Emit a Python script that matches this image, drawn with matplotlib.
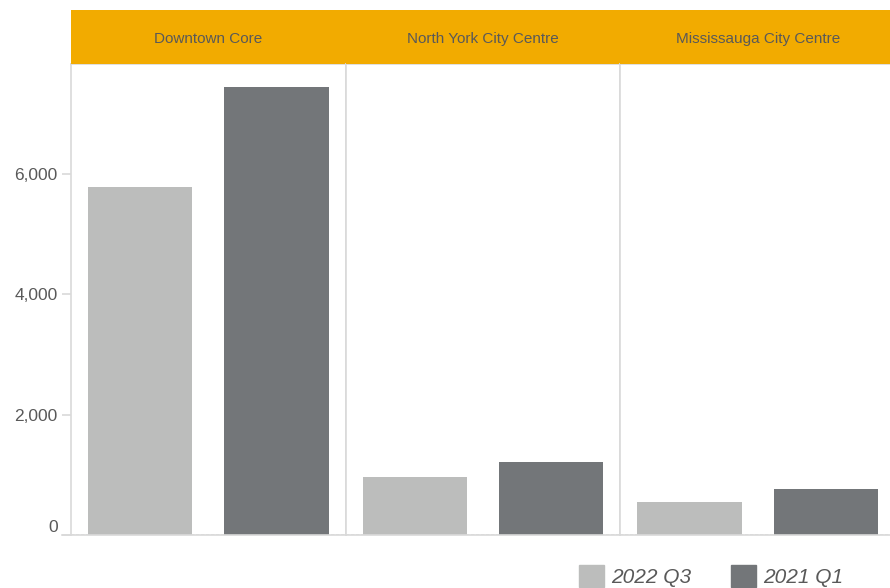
import matplotlib.pyplot as plt
from matplotlib.ticker import FuncFormatter

plt.rcParams['font.family'] = ['Liberation Sans', 'DejaVu Sans']

centres = ['Downtown Core', 'North York City Centre', 'Mississauga City Centre']
series = ['2022 Q3', '2021 Q1']
q3_2022 = [5780, 960, 550]
q1_2021 = [7450, 1210, 765]
colors = ['#BCBDBC', '#737679']

header_color = '#F2AB00'
text_color = '#595959'
line_color = '#D9D9D9'

fig = plt.figure(figsize=(8.9, 5.88), dpi=100)

left = 71 / 890
pw = 274.7 / 890
bottom, top = 1 - 535 / 588, 1 - 64 / 588
head_top = 1 - 10 / 588

axes = []
for i, name in enumerate(centres):
    ax = fig.add_axes([left + i * pw, bottom, pw, top - bottom],
                      sharey=axes[0] if axes else None)
    axes.append(ax)
    vals = [q3_2022[i], q1_2021[i]]
    ax.bar([0, 1], vals, width=0.766, color=colors, zorder=2)
    ax.set_xlim(-0.508, 1.508)
    ax.set_ylim(0, 7830)
    ax.set_xticks([])
    for s in ax.spines.values():
        s.set_color(line_color)
        s.set_linewidth(1.2)
    ax.spines['bottom'].set_visible(False)
    ax.axhline(0, color=line_color, lw=1.2, ls=(0, (2, 1)), zorder=1)

    # orange facet header
    hx = fig.add_axes([left + i * pw, top, pw, head_top - top])
    hx.set_facecolor(header_color)
    hx.set_xticks([])
    hx.set_yticks([])
    for s in hx.spines.values():
        s.set_visible(False)
    hx.text(0.5, 0.47, name, ha='center', va='center', fontsize=11,
            color=text_color, transform=hx.transAxes)

    if i > 0:
        ax.tick_params(left=False, labelleft=False)

axes[0].set_yticks([0, 2000, 4000, 6000])
axes[0].yaxis.set_major_formatter(FuncFormatter(lambda v, p: f'{int(v):,}'))
axes[0].tick_params(axis='y', length=6.5, width=1.2, color=line_color,
                    labelcolor=text_color, labelsize=12.5, pad=3)
for lab in axes[0].get_yticklabels():
    if lab.get_text() == '0':
        lab.set_verticalalignment('bottom')

# baseline running under the tick marks
fig.add_artist(plt.Line2D([62 / 890, 1], [bottom, bottom],
                          color=line_color, lw=1.2))

# legend at the bottom right
handles = [plt.Rectangle((0, 0), 1, 1, color=c) for c in colors]
fig.legend(handles, series, loc='lower left', bbox_to_anchor=(560 / 890, -0.03),
           ncol=2, frameon=False, handlelength=1.2, handleheight=1.2,
           handletextpad=0.35, columnspacing=1.9,
           prop={'size': 15, 'style': 'italic'}, labelcolor=text_color)

fig.savefig('out.png', dpi=100)
